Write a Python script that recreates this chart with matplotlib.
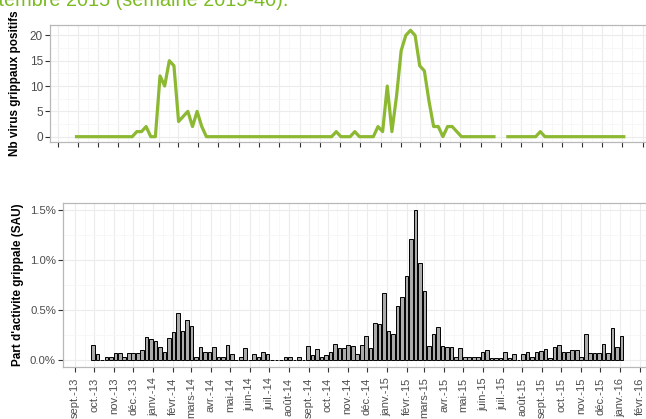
import datetime as dt
import numpy as np
import matplotlib
matplotlib.use("Agg")
import matplotlib.pyplot as plt
import matplotlib.dates as mdates
from matplotlib.ticker import FuncFormatter, MultipleLocator

plt.rcParams['font.family'] = ['Liberation Sans', 'DejaVu Sans']

# --------------------------
# data (weekly)
# --------------------------
first_week = dt.date(2013, 9, 29)
n_weeks = 119

virus = [0] * 13 + [1, 1, 2, 0, 0, 12, 10, 15, 14, 3, 4, 5, 2, 5, 2, 0] \
    + [0] * 27 + [1, 0, 0, 0, 1, 0, 0, 0, 0] \
    + [2, 1, 10, 1, 8, 17, 20, 21, 20, 14, 13, 7, 2, 2, 0, 2, 2, 1] \
    + [0] * 8 + [np.nan, np.nan] + [0] * 7 + [1] + [0] * 18

sau_pct = [0.15, 0.06, 0, 0.03, 0.03, 0.07, 0.07, 0.03, 0.07, 0.07,
           0.07, 0.10, 0.23, 0.21, 0.19, 0.13, 0.08, 0.22, 0.28, 0.47,
           0.29, 0.40, 0.34, 0.03, 0.13, 0.08, 0.08, 0.13, 0.03, 0.03,
           0.15, 0.06,
           0, 0.03, 0.12, 0, 0.06, 0.03, 0.08, 0.06, 0, 0,
           0, 0.03, 0.03, 0, 0.03, 0, 0.14, 0.05, 0.11, 0.03,
           0.05, 0.08, 0.16, 0.12, 0.12, 0.15, 0.14, 0.06, 0.15, 0.24,
           0.12, 0.37, 0.36,
           0.67, 0.29, 0.26, 0.54, 0.63, 0.84, 1.21, 1.50, 0.97, 0.69,
           0.14, 0.26, 0.33, 0.14, 0.13,
           0.13, 0.03, 0.12, 0.03, 0.03, 0.03, 0.03, 0.08, 0.10, 0.02,
           0.02, 0.02, 0.08, 0.02, 0.06, 0, 0.06, 0.08, 0.03, 0.08,
           0.09, 0.11, 0.02, 0.13, 0.15, 0.08, 0.08, 0.10, 0.10, 0.03,
           0.26, 0.07, 0.07, 0.07, 0.16, 0.07, 0.32, 0.13, 0.24]

month_labels = ["sept.-13", "oct.-13", "nov.-13", "déc.-13",
                "janv.-14", "févr.-14", "mars-14", "avr.-14", "mai-14", "juin-14",
                "juil.-14", "août-14", "sept.-14", "oct.-14", "nov.-14", "déc.-14",
                "janv.-15", "févr.-15", "mars-15", "avr.-15", "mai-15", "juin-15",
                "juil.-15", "août-15", "sept.-15", "oct.-15", "nov.-15", "déc.-15",
                "janv.-16", "févr.-16"]

weeks = mdates.date2num([first_week + dt.timedelta(days=7 * i) for i in range(n_weeks)])
month_ticks = mdates.date2num([dt.date(2013 + (8 + k) // 12, (8 + k) % 12 + 1, 1)
                               for k in range(len(month_labels))])
mid_ticks = month_ticks + 15
d0 = month_ticks[0]

green = '#8cb832'
txt_col = '#4d4d4d'
border = '#b8b8b8'


def style_axes(ax):
    ax.set_facecolor('white')
    for s in ax.spines.values():
        s.set_color(border)
        s.set_linewidth(0.9)
    ax.set_xticks(month_ticks)
    ax.set_xticks(mid_ticks, minor=True)
    ax.grid(which='major', color='#ececec', linewidth=0.8)
    ax.grid(which='minor', color='#f6f6f6', linewidth=0.6)
    ax.set_axisbelow(True)
    ax.tick_params(which='major', direction='out', length=3.6, width=0.8,
                   color='#333333', labelcolor=txt_col, labelsize=7.8, pad=1.5)
    ax.tick_params(which='minor', length=0)


fig = plt.figure(figsize=(6.46, 4.19), dpi=100)

# title, cut off by the screenshot (as in the original)
fig.text(288 / 646, 1 - 6 / 419, "Données jusqu'à fin septembre 2015 (semaine 2015-40).",
         ha='right', va='baseline', fontsize=14.3, color='#7dbb23')

# --------------------------
# top: virus count
# --------------------------
ax1 = fig.add_axes([50 / 646, 1 - 142 / 419, 610 / 646, 117 / 419])
style_axes(ax1)
ax1.plot(weeks, virus, color=green, linewidth=2.3, solid_joinstyle='round')
ax1.set_xlim(d0 - 8 / 0.6625, d0 + 602 / 0.6625)
ax1.set_ylim(-1.05, 22.05)
ax1.yaxis.set_major_locator(MultipleLocator(5))
ax1.yaxis.set_minor_locator(MultipleLocator(2.5))
ax1.set_xticklabels([])
ax1.tick_params(axis='y', labelsize=8.5)
ax1.set_ylabel("Nb virus grippaux positifs", fontsize=8.5, fontweight='bold')
ax1.yaxis.set_label_coords(-29 / 610, 0.5)

# --------------------------
# bottom: share of flu activity
# --------------------------
ax2 = fig.add_axes([63 / 646, 1 - 367 / 419, 597 / 646, 164 / 419])
style_axes(ax2)
ax2.bar(weeks, sau_pct, width=5.6, color='#ababab', edgecolor='black', linewidth=0.7)
ax2.set_xlim(d0 - 12 / 0.64, d0 + 585 / 0.64)
ax2.set_ylim(-0.075, 1.575)
ax2.yaxis.set_major_locator(MultipleLocator(0.5))
ax2.yaxis.set_minor_locator(MultipleLocator(0.25))
ax2.yaxis.set_major_formatter(FuncFormatter(lambda v, p: f"{v:.1f}%"))
ax2.set_xticklabels(month_labels, rotation=90, va='top', ha='center')
ax2.tick_params(axis='x', pad=4, labelsize=8)
ax2.tick_params(axis='y', labelsize=8.2)
ax2.set_ylabel("Part d'activite grippale (SAU)", fontsize=8.5, fontweight='bold')
ax2.yaxis.set_label_coords(-39 / 597, 0.5)

fig.savefig("out.png", dpi=100)
